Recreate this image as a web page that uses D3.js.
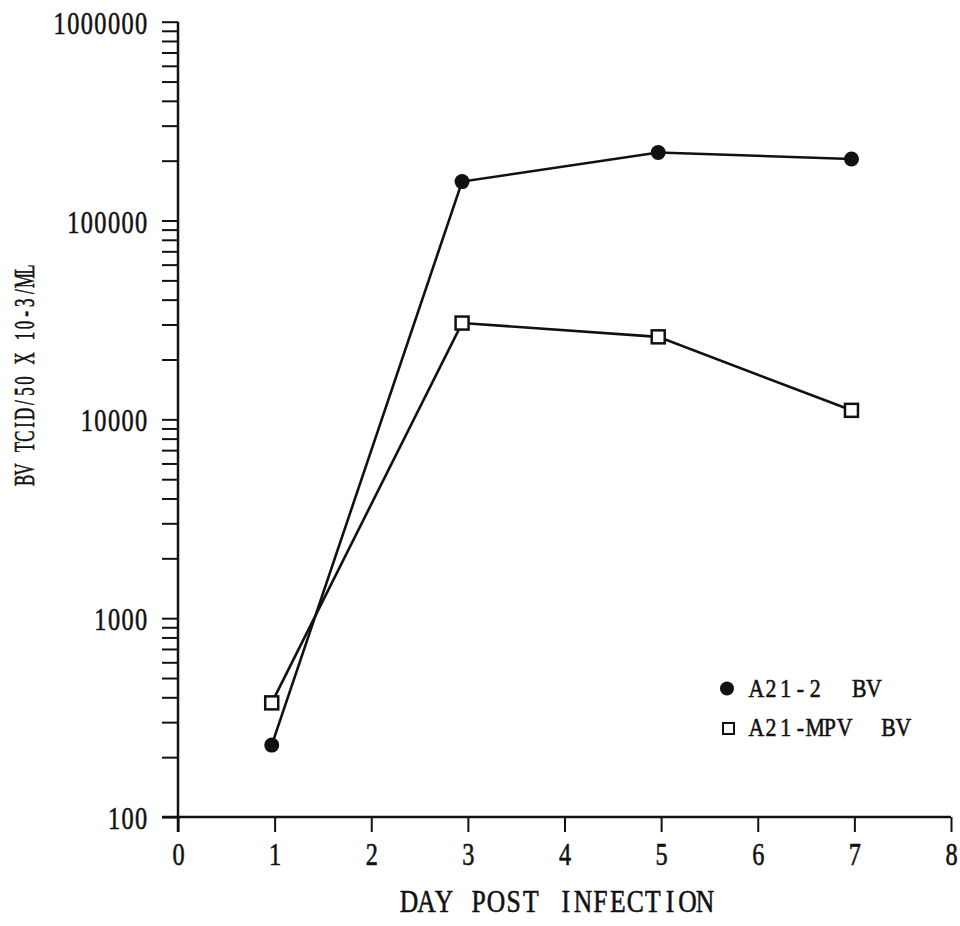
<!DOCTYPE html>
<html>
<head>
<meta charset="utf-8">
<script src="https://cdn.jsdelivr.net/npm/d3@7"></script>
<style>
  html, body { margin: 0; padding: 0; background: #fff; }
  svg text { font-family: "Liberation Serif", "DejaVu Serif", serif; fill: #111; }
</style>
</head>
<body>
<svg id="chart" width="960" height="926"></svg>
<script>
// ---- data ----
const days = [0.97, 2.94, 4.97, 6.97];
const seriesA21_2 = [230, 157000, 220000, 204000];      // filled circles
const seriesA21_MPV = [375, 30500, 26000, 11100];        // open squares
const xTicks = [0, 1, 2, 3, 4, 5, 6, 7, 8];
const yMajor = [100, 1000, 10000, 100000, 1000000];
const seriesNames = ["A21-2  BV", "A21-MPV  BV"];
const xTitle = "DAY POST INFECTION";
const yTitle = "BV TCID/50 X 10-3/ML";

// ---- helpers ----
const ink = "#111";
// typewriter-like text: each character centred in a fixed-width cell
function monoText(parent, str, o) {
  const adv = o.adv, sx = o.sx, n = str.length, total = n * adv;
  const off = o.anchor === "middle" ? -total / 2 : o.anchor === "end" ? -total : 0;
  const t = parent.append("text")
    .attr("transform", `translate(${o.x},${o.y}) rotate(${o.rotate || 0}) scale(${sx},1)`)
    .attr("font-size", o.size).attr("text-anchor", "middle")
    .attr("fill", ink).attr("stroke", ink).attr("stroke-width", o.sw || 0.6)
    .style("font-family", "Liberation Serif");
  str.split("").forEach((c, i) => {
    if (c === " ") return;
    t.append("tspan").attr("x", (off + (i + 0.5) * adv) / sx).attr("y", 0).text(c);
  });
  return t;
}

// ---- layout ----
const svg = d3.select("#chart");
const x = d3.scaleLinear().domain([0, 8]).range([178, 951]);
const y = d3.scaleLog().domain([100, 1000000]).range([817, 21.7]);

// y ticks: majors + minors
const yAll = [];
for (let d = 100; d < 1000000; d *= 10) for (let k = 1; k < 10; k++) yAll.push(d * k);
yAll.push(1000000);

const yAxis = d3.axisLeft(y).tickValues(yAll).tickSize(16).tickSizeOuter(0).tickFormat("");
const gy = svg.append("g").attr("transform", "translate(178,0)").call(yAxis);
gy.select(".domain").attr("stroke", ink).attr("stroke-width", 2.5)
  .attr("d", `M0,${y(1000000)}V${y(100) + 15}`);
gy.selectAll(".tick line").attr("stroke", ink).attr("stroke-width", 2);
gy.selectAll(".tick text").remove();
gy.selectAll(".tick").filter(v => yMajor.includes(v)).each(function(v) {
  monoText(d3.select(this), String(v), { x: -30, y: 11.5, size: 32, adv: 13.6, sx: 0.76, anchor: "end" });
});

const xAxis = d3.axisBottom(x).tickValues(xTicks).tickSize(15).tickSizeOuter(0).tickFormat("");
const gx = svg.append("g").attr("transform", `translate(0,${y(100)})`).call(xAxis);
gx.select(".domain").attr("stroke", ink).attr("stroke-width", 2.5)
  .attr("d", `M${x(0) - 16},0H${x(8)}`);
gx.selectAll(".tick line").attr("stroke", ink).attr("stroke-width", 2);
gx.selectAll(".tick text").remove();
gx.selectAll(".tick").each(function(v) {
  monoText(d3.select(this), String(v), { x: 0, y: 48, size: 32, adv: 13.6, sx: 0.76, anchor: "middle" });
});

// ---- lines ----
const line = d3.line().x((d, i) => x(days[i])).y(d => y(d));
svg.append("path").datum(seriesA21_2).attr("d", line)
  .attr("fill", "none").attr("stroke", ink).attr("stroke-width", 2.6);
svg.append("path").datum(seriesA21_MPV).attr("d", line)
  .attr("fill", "none").attr("stroke", ink).attr("stroke-width", 2.6);

// ---- markers ----
svg.append("g").selectAll("circle").data(seriesA21_2).join("circle")
  .attr("cx", (d, i) => x(days[i])).attr("cy", d => y(d)).attr("r", 7.5).attr("fill", ink);
svg.append("g").selectAll("rect").data(seriesA21_MPV).join("rect")
  .attr("x", (d, i) => x(days[i]) - 6.5).attr("y", d => y(d) - 6.5)
  .attr("width", 13).attr("height", 13)
  .attr("fill", "#fff").attr("stroke", ink).attr("stroke-width", 2.5);

// ---- legend ----
const lg = svg.append("g");
lg.append("circle").attr("cx", 727).attr("cy", 688.5).attr("r", 7).attr("fill", ink);
lg.append("rect").attr("x", 723).attr("y", 723).attr("width", 11).attr("height", 11)
  .attr("fill", "#fff").attr("stroke", ink).attr("stroke-width", 2);
seriesNames.forEach((s, i) => {
  monoText(lg, s, { x: 749, y: i === 0 ? 697 : 736, size: 26, adv: 14.7, sx: 0.84, anchor: "start" });
});

// ---- axis titles ----
monoText(svg, xTitle, { x: 557, y: 912, size: 32, adv: 17.4, sx: 0.8, anchor: "middle" });
monoText(svg, yTitle, { x: 33.5, y: 375, size: 30, adv: 11.1, sx: 0.56, anchor: "middle", rotate: -90 });
</script>
</body>
</html>
